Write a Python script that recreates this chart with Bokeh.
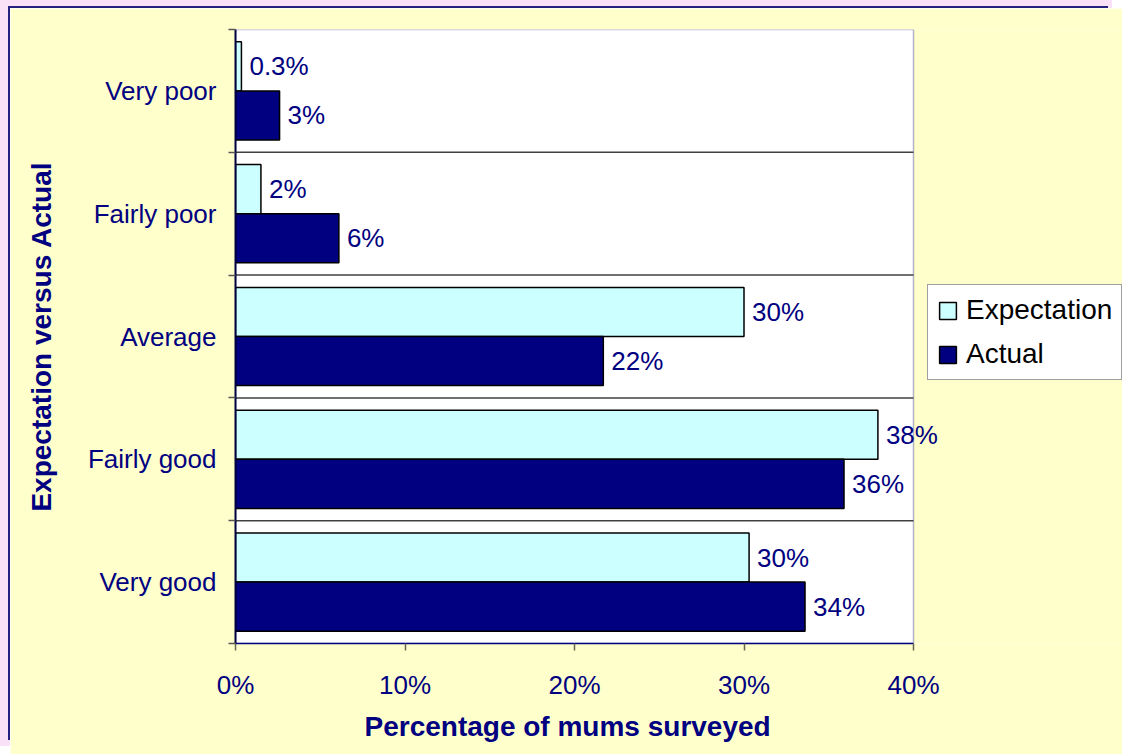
from bokeh.plotting import figure
from bokeh.models import (Range1d, FixedTicker, Legend, LegendItem, ColumnDataSource,
                          LabelSet, PrintfTickFormatter, BoxAnnotation, Title)
from bokeh.core.properties import value
from bokeh.transform import dodge
from bokeh.embed import file_html
from bokeh.resources import INLINE

# ---- data ----
categories = ["Very poor", "Fairly poor", "Average", "Fairly good", "Very good"]
expectation = [0.35, 1.5, 30.0, 37.9, 30.3]
actual = [2.6, 6.1, 21.7, 35.9, 33.6]
expectation_labels = ["0.3%", "2%", "30%", "38%", "30%"]
actual_labels = ["3%", "6%", "22%", "36%", "34%"]
x_ticks = [0, 10, 20, 30, 40]

NAVY = "#000080"
FONT = "Liberation Sans"
X_VIEW = 52.33          # visible data extent; the plot area itself ends at x_ticks[-1]

n = len(categories)
ypos = [n - i - 0.5 for i in range(n)]      # first category at the top
boundaries = list(range(1, n))
OFF = 0.2

source = ColumnDataSource(dict(y=ypos, cat=categories, exp=expectation, act=actual,
                               exp_lab=expectation_labels, act_lab=actual_labels))
gsrc = ColumnDataSource(dict(y=boundaries, x0=[x_ticks[0]] * len(boundaries),
                             x1=[x_ticks[-1]] * len(boundaries)))

p = figure(width=1112, height=746, x_range=Range1d(0, X_VIEW), y_range=Range1d(0, n),
           output_backend="svg", toolbar_location=None,
           min_border_left=225, min_border_right=0, min_border_top=21, min_border_bottom=111)

# outer frame: thin navy edge and a pale pink surround on the top / left only
p.styles = {"margin-left": "10px", "margin-top": "8px",
            "box-shadow": "-8px -8px 0 -6px #23237f, -14px -12px 0 4px #F9E1F7"}

p.border_fill_color = "#FFFFCC"
p.background_fill_color = "#FFFFCC"
p.outline_line_color = None

# white plot area bounded by the axis extent
p.add_layout(BoxAnnotation(left=x_ticks[0], right=x_ticks[-1], bottom=0, top=n,
                           fill_color="white", fill_alpha=1.0,
                           line_color=NAVY, line_width=1.5, level="underlay"))

# separators between categories
p.segment(x0="x0", y0="y", x1="x1", y1="y", source=gsrc, line_color="#404040", line_width=1.5)

r_exp = p.hbar(y=dodge("y", OFF, range=p.y_range), left=0, right="exp", height=0.4,
               source=source, fill_color="#CCFFFF", line_color="black", line_width=1.5)
r_act = p.hbar(y=dodge("y", -OFF, range=p.y_range), left=0, right="act", height=0.4,
               source=source, fill_color=NAVY, line_color="black", line_width=1.5)

for xf, lab, off in (("exp", "exp_lab", OFF), ("act", "act_lab", -OFF)):
    p.add_layout(LabelSet(x=xf, y=dodge("y", off, range=p.y_range), text=lab, source=source,
                          x_offset=8, text_baseline="middle", text_align="left",
                          text_font=value(FONT), text_font_size=value("26px"),
                          text_color=NAVY))

# x axis
p.xaxis.bounds = (x_ticks[0], x_ticks[-1])
p.xaxis.ticker = FixedTicker(ticks=x_ticks)
p.xaxis.formatter = PrintfTickFormatter(format="%d%%")
p.xaxis.major_tick_out = 7
p.xaxis.major_tick_in = 0
p.xaxis.major_tick_line_color = "#666655"
p.xaxis.major_tick_line_width = 1.5
p.xaxis.minor_tick_line_color = None
p.xaxis.axis_line_color = NAVY
p.xaxis.axis_line_width = 1.5
p.xaxis.major_label_text_font = FONT
p.xaxis.major_label_text_font_size = "26px"
p.xaxis.major_label_text_color = NAVY
p.xaxis.major_label_standoff = 19

# x-axis title centred under the 0-40 % span (not under the whole frame)
p.add_layout(Title(text="Percentage of mums surveyed", align="left", offset=129,
                   text_font=FONT, text_font_style="bold", text_font_size="28px",
                   text_color=NAVY, standoff=13), "below")

# y axis
p.yaxis.ticker = FixedTicker(ticks=ypos, minor_ticks=list(range(n + 1)))
p.yaxis.major_label_overrides = {y: c for y, c in zip(ypos, categories)}
p.yaxis.major_tick_out = 0
p.yaxis.major_tick_in = 0
p.yaxis.minor_tick_out = 7
p.yaxis.minor_tick_in = 0
p.yaxis.minor_tick_line_color = "#555555"
p.yaxis.minor_tick_line_width = 1.5
p.yaxis.axis_line_color = "#000040"
p.yaxis.axis_line_width = 2
p.yaxis.major_label_text_font = FONT
p.yaxis.major_label_text_font_size = "26px"
p.yaxis.major_label_text_color = NAVY
p.yaxis.major_label_standoff = 12
p.yaxis.axis_label = "Expectation versus Actual"
p.yaxis.axis_label_text_font = FONT
p.yaxis.axis_label_text_font_style = "bold"
p.yaxis.axis_label_text_font_size = "28px"
p.yaxis.axis_label_text_color = NAVY
p.yaxis.axis_label_standoff = 28

p.xgrid.visible = False
p.ygrid.visible = False

legend = Legend(items=[LegendItem(label="Expectation", renderers=[r_exp]),
                       LegendItem(label="Actual", renderers=[r_act])],
                location=(692, 263), orientation="vertical",
                border_line_color="#404040", border_line_width=1.5,
                background_fill_color="white", background_fill_alpha=1.0,
                label_text_font=FONT, label_text_font_size="28px", label_text_color="black",
                glyph_width=21, glyph_height=21, label_standoff=8,
                padding=9, spacing=12, margin=0)
p.add_layout(legend, "center")

open("out.html", "w").write(file_html(p, INLINE))
